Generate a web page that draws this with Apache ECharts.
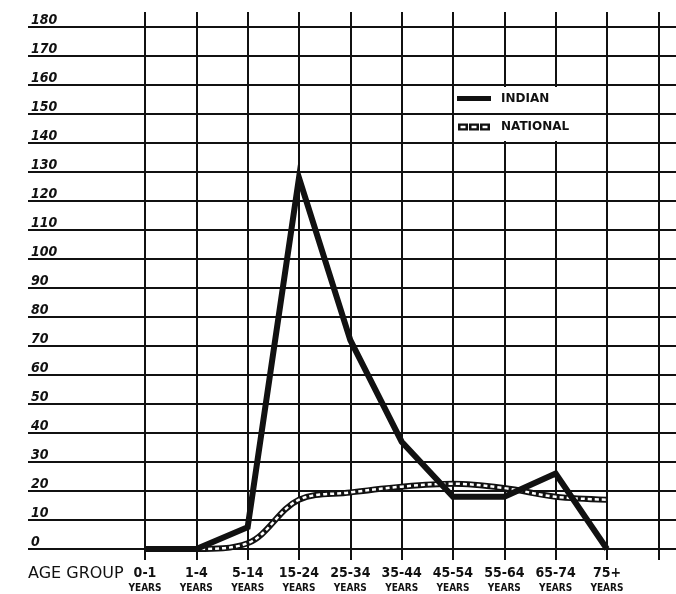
<!DOCTYPE html>
<html><head><meta charset="utf-8">
<script src="https://cdn.jsdelivr.net/npm/echarts@6/dist/echarts.min.js"></script>
<style>html,body{margin:0;padding:0;background:#fff}#c{width:676px;height:594px}</style>
</head><body><div id="c"></div>
<script>
// ---- data ----
const categories = ['0-1','1-4','5-14','15-24','25-34','35-44','45-54','55-64','65-74','75+'];
const categorySubLabel = 'YEARS';
const indian   = [0, 0, 7.5, 128, 72, 37, 18, 18, 26, 0];
const national = [0, 0, 2, 17, 19.5, 21.5, 22.5, 21, 18, 17];
const yMin = 0, yMax = 180, yStep = 10;
const xAxisTitle = 'AGE GROUP';
const seriesNames = ['INDIAN', 'NATIONAL'];

// ---- layout ----
const X0 = 145, STEP = 51.33, LEFT = 28, W = 676;
const xMinA = (LEFT - X0) / STEP, xMaxA = (W - X0) / STEP;
const INK = '#111';
const FONT = 'DejaVu Sans Condensed';

const pts = arr => arr.map((v, i) => [i, v]);
const chainIcon = 'path://M0 0H10V7H0Z M2.5 2.2V4.8H7.5V2.2Z M11 0H21V7H11Z M13.5 2.2V4.8H18.5V2.2Z M22 0H32V7H22Z M24.5 2.2V4.8H29.5V2.2Z';
const barIcon = 'path://M0 1H34V6H0Z';

const chart = echarts.init(document.getElementById('c'), null, {renderer: 'canvas'});
chart.setOption({
  animation: false,
  backgroundColor: '#fff',
  title: {
    text: xAxisTitle, left: LEFT, top: 566, padding: 0,
    textStyle: {fontFamily: 'DejaVu Sans', fontSize: 16, fontWeight: 'normal', color: INK}
  },
  legend: {
    orient: 'vertical', left: 455, top: 87, padding: [4.5, 31, 7, 2],
    backgroundColor: '#fff', z: 1, selectedMode: false,
    itemWidth: 34, itemHeight: 7, itemGap: 14.5,
    data: [{name: seriesNames[0], icon: barIcon}, {name: seriesNames[1], icon: chainIcon}],
    textStyle: {fontFamily: 'DejaVu Sans', fontWeight: 'bold', fontSize: 12, color: INK, lineHeight: 14, padding: [0, 0, 0, 5]}
  },
  grid: [
    {left: LEFT, right: 0, top: 27, bottom: 45},
    {left: X0, right: W - (X0 + STEP * 10), top: 12, bottom: 34}
  ],
  xAxis: [
    {gridIndex: 0, type: 'value', min: xMinA, max: xMaxA, show: false},
    {gridIndex: 1, type: 'value', min: 0, max: 10, interval: 1, z: 0,
     axisLine: {show: false}, axisTick: {show: false},
     splitLine: {show: true, showMinLine: true, showMaxLine: true, lineStyle: {color: INK, width: 2}},
     axisLabel: {
       margin: 6,
       formatter: v => categories[v] !== undefined ? '{a|' + categories[v] + '}\n{b|' + categorySubLabel + '}' : '',
       rich: {
         a: {fontFamily: FONT, fontWeight: 'bold', fontSize: 14, lineHeight: 15, color: INK, align: 'center'},
         b: {fontFamily: FONT, fontWeight: 'bold', fontSize: 10, lineHeight: 14, color: INK, align: 'center'}
       }
     }}
  ],
  yAxis: [
    {gridIndex: 0, type: 'value', min: yMin, max: yMax, interval: yStep, z: 2,
     axisLine: {show: false}, axisTick: {show: false},
     splitLine: {show: true, showMinLine: true, showMaxLine: true, lineStyle: {color: INK, width: 2}},
     axisLabel: {inside: true, margin: 3, verticalAlign: 'bottom', fontFamily: FONT, fontStyle: 'italic',
                 fontWeight: 'bold', fontSize: 14, color: INK}},
    {gridIndex: 1, type: 'value', min: 0, max: 1, show: false}
  ],
  series: [
    {name: seriesNames[1], type: 'line', xAxisIndex: 0, yAxisIndex: 0, data: pts(national),
     smooth: 0.35, symbol: 'none', silent: true, z: 3,
     itemStyle: {color: INK}, lineStyle: {color: INK, width: 6}},
    {name: seriesNames[1] + ' links', type: 'line', xAxisIndex: 0, yAxisIndex: 0, data: pts(national),
     smooth: 0.35, symbol: 'none', silent: true, z: 4,
     itemStyle: {color: '#fff'}, lineStyle: {color: '#fff', width: 2.5, type: [4, 3]}},
    {name: seriesNames[0], type: 'line', xAxisIndex: 0, yAxisIndex: 0, data: pts(indian),
     symbol: 'none', silent: true, z: 5,
     itemStyle: {color: INK}, lineStyle: {color: INK, width: 6, join: 'miter', miterLimit: 20}}
  ]
});
</script>
</body></html>
